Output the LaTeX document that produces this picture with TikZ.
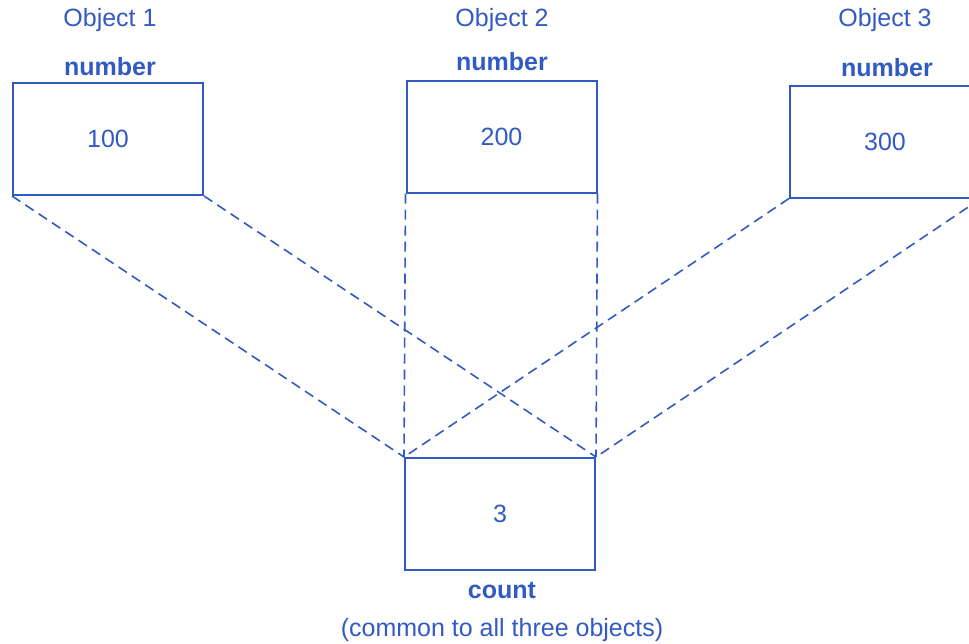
\documentclass[tikz,border=0pt]{standalone}
\usepackage{fontspec}
\setmainfont{Liberation Sans}
\usetikzlibrary{positioning}
\definecolor{inkblue}{RGB}{50,90,195}
\tikzset{
    objbox/.style={draw=inkblue, line width=1pt, minimum width=95pt, minimum height=56pt, inner sep=0pt, text=inkblue},
    link/.style={draw=inkblue, line width=0.8pt, dash pattern=on 5pt off 3pt},
    lbl/.style={text=inkblue, inner sep=0pt},
  }
\begin{document}
\begin{tikzpicture}[x=0.5pt,y=-0.5pt,font=\fontsize{12.5}{15}\selectfont]
				  \useasboundingbox (0,0) rectangle (969,643);
				  \clip (0,0) rectangle (969,643);
				  %OBJECTS
				  \node[objbox] (obj1) at (108,139) {100};
				  \node[objbox] (obj2) at (501.5,136.5) {200};
				  \node[objbox] (obj3) at (885,141.5) {300};
				  \node[lbl,font=\fontsize{12.5}{15}\selectfont\bfseries] (num1) at (110,67) {number};
				  \node[lbl,font=\fontsize{12.5}{15}\selectfont\bfseries] (num2) at (502,62) {number};
				  \node[lbl,font=\fontsize{12.5}{15}\selectfont\bfseries] (num3) at (887,68) {number};
				  \node[lbl] (name1) at (110,20) {Object 1};
				  \node[lbl] (name2) at (502,20) {Object 2};
				  \node[lbl] (name3) at (885,20) {Object 3};
				  %COUNT
				  \node[objbox] (cnt) at (500,514) {3};
				  \node[lbl,font=\fontsize{12.5}{15}\selectfont\bfseries] (cntname) at (502,590) {count};
				  \node[lbl] (common) at (502,630) {(common to all three objects)};
				  %LINKS
				  \draw[link] (obj1.south west) -- (cnt.north west);
				  \draw[link] (obj1.south east) -- (cnt.north east);
				  \draw[link] (obj2.south west) -- (cnt.north west);
				  \draw[link] (obj2.south east) -- (cnt.north east);
				  \draw[link] (obj3.south west) -- (cnt.north west);
				  \draw[link] (obj3.south east) -- (cnt.north east);
				  \end{tikzpicture}
\end{document}
